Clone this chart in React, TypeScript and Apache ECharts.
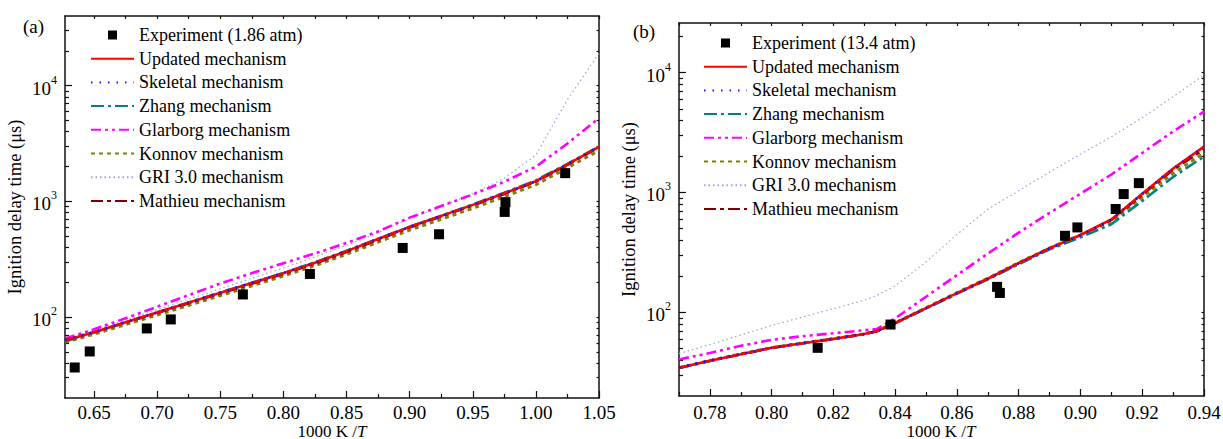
import React, { useEffect, useRef } from 'react';
import * as echarts from 'echarts';

const FONT = '"Liberation Serif", "Times New Roman", serif';

// ---------- Panel (a): 1.86 atm ----------
const A_X = [0.627, 0.65, 0.675, 0.7, 0.725, 0.75, 0.775, 0.8, 0.825, 0.85, 0.875, 0.9, 0.925, 0.95, 0.975, 1.0, 1.025, 1.05];
const A_UPDATED = [62.8, 74.1, 90.2, 109.6, 133.4, 162.2, 197.2, 239.9, 295.1, 371.5, 473.2, 602.6, 749.9, 933.3, 1175, 1496, 2089, 2965];
const A_SKELETAL = [63.5, 74.5, 90.5, 110, 134, 163, 198, 241, 296, 372, 474, 600, 748, 930, 1170, 1490, 2090, 2970];
const A_ZHANG = [61.5, 73.5, 90, 110, 134, 163, 198, 241, 297, 374, 476, 604, 752, 940, 1190, 1520, 2110, 2990];
const A_GLARBORG = [65.3, 78.5, 97.7, 123, 155, 195, 240, 292, 355, 437, 550, 724, 912, 1148, 1479, 1995, 3162, 5248];
const A_KONNOV = [60.5, 71, 86, 104, 126, 153, 186, 226, 278, 349, 443, 563, 700, 870, 1095, 1390, 1950, 2750];
const A_GRI = [64.6, 76.7, 94.4, 116.1, 142.9, 175.8, 216.3, 266.1, 331.1, 416.9, 537.0, 707.9, 901.6, 1161, 1585, 2512, 7586, 19055];
const A_MATHIEU = [63, 74, 89.5, 108.5, 132, 160, 194, 236, 290, 365, 466, 594, 740, 922, 1160, 1480, 2070, 2940];
const A_EXP_X = [0.6347, 0.6466, 0.6918, 0.7108, 0.7679, 0.821, 0.8945, 0.9233, 0.9753, 0.9759, 1.0232];
const A_EXP_Y = [36.7, 50.5, 79.8, 95.5, 157, 236, 396, 520, 811, 985, 1754];

// ---------- Panel (b): 13.4 atm ----------
const B_X = [0.77, 0.78, 0.79, 0.8, 0.81, 0.82, 0.83, 0.834, 0.84, 0.85, 0.86, 0.87, 0.88, 0.89, 0.9, 0.91, 0.92, 0.93, 0.94];
const B_UPDATED = [34.4, 39.4, 44.7, 50.5, 55.2, 60.0, 65.8, 69.5, 81.3, 108.4, 144.5, 190.5, 257.0, 342.8, 441.6, 595.7, 977.2, 1585, 2415];
const B_SKELETAL = [34.6, 39.5, 44.8, 50.4, 55.3, 60.1, 65.9, 69.6, 81.5, 108.0, 144.0, 190.0, 256.0, 342.0, 440.0, 593.0, 975.0, 1580, 2410];
const B_ZHANG = [34.2, 39.2, 44.5, 50.3, 55.0, 59.8, 65.6, 69.3, 81.0, 107.5, 143.0, 188.0, 252.0, 335.0, 421.7, 543.3, 851.1, 1349, 1995];
const B_GLARBORG = [40.4, 45.7, 52.5, 58.9, 63.1, 66.8, 70.8, 72.4, 89.1, 134.9, 204.2, 309.0, 462.4, 676.1, 977.2, 1413, 2138, 3236, 4732];
const B_KONNOV = [34.5, 39.6, 45.0, 50.8, 55.5, 60.3, 66.2, 70.0, 82.0, 109.5, 146.0, 193.0, 260.0, 345.0, 441.6, 575.4, 912.0, 1445, 2138];
const B_GRI = [45.2, 53.7, 64.6, 77.6, 91.2, 107.2, 125.9, 138.0, 166.0, 263.0, 446.7, 724.4, 1035, 1479, 2089, 2917, 4217, 6310, 9550];
const B_MATHIEU = [34.3, 39.3, 44.6, 50.4, 55.1, 59.9, 65.7, 69.4, 81.1, 108.0, 144.0, 190.0, 256.0, 341.0, 438.0, 590.0, 960.0, 1549, 2291];
const B_EXP_X = [0.8149, 0.8385, 0.873, 0.8739, 0.895, 0.899, 0.9114, 0.914, 0.9189];
const B_EXP_Y = [50.5, 79, 163, 145, 435, 511, 728, 970, 1197];

// ---------- Tick values ----------
const A_X_MAJOR = [0.65, 0.7, 0.75, 0.8, 0.85, 0.9, 0.95, 1.0, 1.05];
const A_X_MINOR = [0.675, 0.725, 0.775, 0.825, 0.875, 0.925, 0.975, 1.025];
const B_X_MAJOR = [0.78, 0.8, 0.82, 0.84, 0.86, 0.88, 0.9, 0.92, 0.94];
const B_X_MINOR = [0.77, 0.79, 0.81, 0.83, 0.85, 0.87, 0.89, 0.91, 0.93];
const Y_MAJOR = [100, 1000, 10000];
const Y_MINOR = [30, 40, 50, 60, 70, 80, 90, 200, 300, 400, 500, 600, 700, 800, 900, 2000, 3000, 4000, 5000, 6000, 7000, 8000, 9000, 20000, 30000];

const X_TITLE = '1000 K /{i|T}';
const Y_TITLE = 'Ignition delay time (μs)';

const MECHS = [
  'Updated mechanism',
  'Skeletal mechanism',
  'Zhang mechanism',
  'Glarborg mechanism',
  'Konnov mechanism',
  'GRI 3.0 mechanism',
  'Mathieu mechanism',
];

const STYLE: Record<string, any> = {
  'Updated mechanism': { color: '#FF0000', width: 2.6, type: 'solid', z: 8 },
  'Skeletal mechanism': { color: '#1010FF', width: 2.6, type: [1.5, 7], z: 9 },
  'Zhang mechanism': { color: '#008080', width: 2.6, type: [13, 4, 3, 4], z: 7 },
  'Glarborg mechanism': { color: '#FF00FF', width: 2.6, type: [10, 4, 3, 4, 3, 4], z: 5 },
  'Konnov mechanism': { color: '#808000', width: 2.8, type: [4, 4], z: 6 },
  'GRI 3.0 mechanism': { color: '#A0A0DA', width: 1.2, type: [1.5, 3], z: 3 },
  'Mathieu mechanism': { color: '#800000', width: 2.6, type: [12, 4, 4, 4], z: 6 },
};

const A_DATA: Record<string, number[]> = {
  'Updated mechanism': A_UPDATED,
  'Skeletal mechanism': A_SKELETAL,
  'Zhang mechanism': A_ZHANG,
  'Glarborg mechanism': A_GLARBORG,
  'Konnov mechanism': A_KONNOV,
  'GRI 3.0 mechanism': A_GRI,
  'Mathieu mechanism': A_MATHIEU,
};
const B_DATA: Record<string, number[]> = {
  'Updated mechanism': B_UPDATED,
  'Skeletal mechanism': B_SKELETAL,
  'Zhang mechanism': B_ZHANG,
  'Glarborg mechanism': B_GLARBORG,
  'Konnov mechanism': B_KONNOV,
  'GRI 3.0 mechanism': B_GRI,
  'Mathieu mechanism': B_MATHIEU,
};

const LINE = { color: '#111', width: 1.5 };
const TICK = { color: '#111', width: 1.2 };

function xAxes(gridIndex: number, min: number, max: number, major: number[], minor: number[], margin: number) {
  const all = major.concat(minor).sort((a, b) => a - b);
  return [
    {
      type: 'value', gridIndex, position: 'bottom', min, max,
      axisLine: { show: true, onZero: false, lineStyle: LINE },
      axisTick: { show: true, inside: true, length: 7, customValues: major, lineStyle: TICK },
      axisLabel: {
        show: true, customValues: major, margin, lineHeight: 15,
        formatter: (v: number) => v.toFixed(2),
        fontSize: 19, fontFamily: FONT, color: '#000',
      },
      splitLine: { show: false },
    },
    {
      type: 'value', gridIndex, position: 'bottom', min, max,
      axisLine: { show: false, onZero: false },
      axisTick: { show: true, inside: true, length: 4, customValues: minor, lineStyle: TICK },
      axisLabel: { show: false },
      splitLine: { show: false },
    },
    {
      type: 'value', gridIndex, position: 'top', min, max,
      axisLine: { show: true, onZero: false, lineStyle: LINE },
      axisTick: { show: true, inside: true, length: 3, customValues: all, lineStyle: TICK },
      axisLabel: { show: false },
      splitLine: { show: false },
    },
  ];
}

function yAxes(gridIndex: number, min: number, max: number) {
  return [
    {
      type: 'log', logBase: 10, gridIndex, position: 'left', min, max,
      axisLine: { show: true, onZero: false, lineStyle: LINE },
      axisTick: { show: true, inside: true, length: 7, customValues: Y_MAJOR, lineStyle: TICK },
      axisLabel: {
        show: true, customValues: Y_MAJOR, margin: 8,
        formatter: (v: number) => '{b|10}{s|' + Math.round(Math.log10(v)) + '}',
        rich: {
          b: { fontSize: 19, fontFamily: FONT, color: '#000', verticalAlign: 'bottom' },
          s: { fontSize: 12, fontFamily: FONT, color: '#000', verticalAlign: 'top', padding: [0, 0, 12, 0] },
        },
      },
      splitLine: { show: false },
      name: Y_TITLE, nameLocation: 'middle', nameGap: 41, nameRotate: 90,
      nameTextStyle: { fontSize: 18.5, fontFamily: FONT, color: '#000' },
    },
    {
      type: 'log', logBase: 10, gridIndex, position: 'left', min, max,
      axisLine: { show: false, onZero: false },
      axisTick: { show: true, inside: true, length: 4, customValues: Y_MINOR, lineStyle: TICK },
      axisLabel: { show: false },
      splitLine: { show: false },
    },
    {
      type: 'log', logBase: 10, gridIndex, position: 'right', min, max,
      axisLine: { show: true, onZero: false, lineStyle: LINE },
      axisTick: { show: true, inside: true, length: 2.5, customValues: Y_MAJOR.concat(Y_MINOR), lineStyle: TICK },
      axisLabel: { show: false },
      splitLine: { show: false },
    },
  ];
}

function mechSeries(xs: number[], data: Record<string, number[]>, xi: number, yi: number) {
  return MECHS.map((name) => {
    const st = STYLE[name];
    return {
      type: 'line', name, xAxisIndex: xi, yAxisIndex: yi,
      data: xs.map((x, i) => [x, data[name][i]]),
      symbol: 'none', showSymbol: false, silent: true, z: st.z,
      color: st.color,
      lineStyle: { color: st.color, width: st.width, type: st.type },
    };
  });
}

function expSeries(name: string, xs: number[], ys: number[], xi: number, yi: number) {
  return {
    type: 'scatter', name, xAxisIndex: xi, yAxisIndex: yi,
    data: xs.map((x, i) => [x, ys[i]]),
    symbol: 'rect', symbolSize: 10, silent: true, z: 12,
    itemStyle: { color: '#000', opacity: 1 },
  };
}

const SQUARE = 'path://M0,0L10,0L10,10L0,10Z';

function legend(left: number, top: number, expName: string) {
  return {
    orient: 'vertical', left, top, padding: 0, itemWidth: 43, itemHeight: 9, itemGap: 5.7,
    selectedMode: false, symbolKeepAspect: true,
    textStyle: { fontSize: 18, fontFamily: FONT, color: '#000' },
    data: [
      { name: expName, icon: SQUARE, itemStyle: { color: '#000', opacity: 1 } },
      ...MECHS.map((n) => ({ name: n, itemStyle: { opacity: 0 } })),
    ],
  };
}

function xTitle(x: number, y: number) {
  return {
    type: 'text', x, y, silent: true,
    style: {
      text: X_TITLE, fontSize: 17, fontFamily: FONT, fill: '#000', lineHeight: 13,
      align: 'center', verticalAlign: 'middle',
      rich: { i: { fontSize: 17, fontFamily: FONT, fontStyle: 'italic', fill: '#000', lineHeight: 13 } },
    },
  };
}

export default function App() {
  const ref = useRef<HTMLDivElement>(null);
  useEffect(() => {
    if (!ref.current) return;
    const chart = echarts.init(ref.current, undefined, { renderer: 'svg' });
    const option: any = {
      animation: false,
      backgroundColor: '#fff',
      grid: [
        { left: 65, top: 16, width: 534, height: 382, outerBoundsMode: 'none', containLabel: false },
        { left: 679, top: 23, width: 525, height: 373, outerBoundsMode: 'none', containLabel: false },
      ],
      xAxis: [
        ...xAxes(0, 0.627, 1.05, A_X_MAJOR, A_X_MINOR, 7),
        ...xAxes(1, 0.77, 0.94, B_X_MAJOR, B_X_MINOR, 9),
      ],
      yAxis: [...yAxes(0, 20, 40000), ...yAxes(1, 20, 26000)],
      legend: [
        legend(90, 26, 'Experiment (1.86 atm)'),
        legend(703, 34, 'Experiment (13.4 atm)'),
      ],
      graphic: [
        { type: 'text', left: 23, top: 17, style: { text: '(a)', font: '19px ' + FONT, fill: '#000' } },
        { type: 'text', left: 633, top: 22, style: { text: '(b)', font: '19px ' + FONT, fill: '#000' } },
        xTitle(332, 431),
        xTitle(941, 431),
      ],
      series: [
        ...mechSeries(A_X, A_DATA, 0, 0),
        expSeries('Experiment (1.86 atm)', A_EXP_X, A_EXP_Y, 0, 0),
        ...mechSeries(B_X, B_DATA, 3, 3),
        expSeries('Experiment (13.4 atm)', B_EXP_X, B_EXP_Y, 3, 3),
      ],
    };
    chart.setOption(option);
    return () => chart.dispose();
  }, []);
  return (
    <div
      ref={ref}
      style={{ position: 'absolute', left: 0, top: 0, width: 1223, height: 439, background: '#fff' }}
    />
  );
}
